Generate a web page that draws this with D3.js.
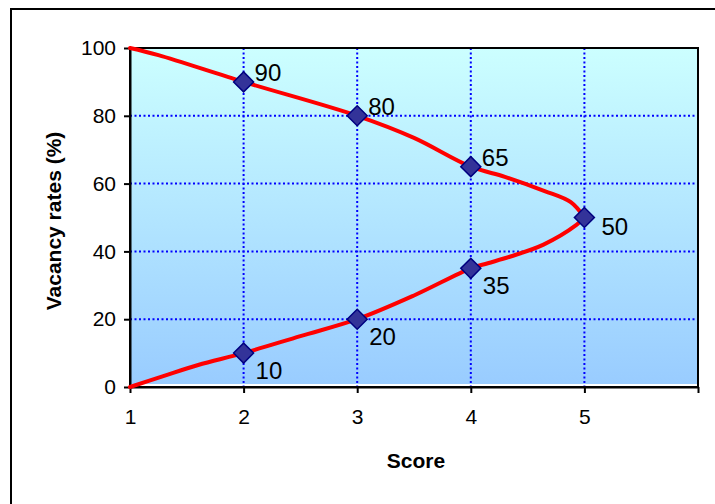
<!DOCTYPE html>
<html>
<head>
<meta charset="utf-8">
<script src="https://cdn.jsdelivr.net/npm/d3@7"></script>
<style>
  html, body { margin: 0; padding: 0; background: #fff; }
  svg { display: block; font-family: Arial, "Liberation Sans", sans-serif; }
</style>
</head>
<body>
<svg id="chart" width="715" height="504"></svg>
<script>
// Scores and vacancy rates for the two branches of the curve
const scores = [2, 3, 4, 5];
const upperRates = [90, 80, 65, 50];
const lowerRates = [10, 20, 35];
const lowerScores = [2, 3, 4];

// Smoothed red curve: upper branch from (1,100) to (5,50), lower branch back to (1,0)
const upperCurveX = [1, 1.25, 2, 3, 3.5, 4, 4.3, 4.65, 4.88, 5];
const upperCurveY = [100, 97.9, 90, 80, 73.5, 65, 62, 57.8, 54.5, 50];
const lowerCurveX = [5, 4.93, 4.64, 4.35, 4.15, 4, 3.5, 3, 2.5, 2, 1.6, 1.3, 1];
const lowerCurveY = [50, 47.8, 42, 38.5, 36.5, 35, 27, 20, 15, 10, 6.5, 3.3, 0];

const xTicks = [1, 2, 3, 4, 5, 6];
const xTickLabels = ["1", "2", "3", "4", "5", ""];
const yTicks = [0, 20, 40, 60, 80, 100];

const svg = d3.select("#chart");
const plotLeft = 130, plotRight = 698, plotTop = 48, plotBottom = 387;

const x = d3.scaleLinear().domain([1, 6]).range([plotLeft, plotRight]);
const y = d3.scaleLinear().domain([0, 100]).range([plotBottom, plotTop]);

// Outer chart frame
svg.append("rect")
  .attr("x", 11).attr("y", 9)
  .attr("width", 740).attr("height", 540)
  .attr("fill", "#fff").attr("stroke", "#000").attr("stroke-width", 2);

// Plot-area gradient fill
const defs = svg.append("defs");
const grad = defs.append("linearGradient")
  .attr("id", "plotFill").attr("x1", 0).attr("y1", 0).attr("x2", 0).attr("y2", 1);
grad.append("stop").attr("offset", "0%").attr("stop-color", "#ccffff");
grad.append("stop").attr("offset", "100%").attr("stop-color", "#99ccff");

svg.append("rect")
  .attr("x", plotLeft).attr("y", plotTop)
  .attr("width", plotRight - plotLeft - 1).attr("height", plotBottom - plotTop - 3)
  .attr("fill", "url(#plotFill)");

// Dotted gridlines
const grid = svg.append("g")
  .attr("stroke", "#0000ff").attr("stroke-width", 2)
  .attr("stroke-dasharray", "2,2.5");
grid.selectAll("line.h").data(yTicks.filter(d => d > 0 && d < 100)).join("line")
  .attr("class", "h")
  .attr("x1", plotLeft).attr("x2", plotRight)
  .attr("y1", d => y(d)).attr("y2", d => y(d));
grid.selectAll("line.v").data(xTicks.filter(d => d > 1 && d < 6)).join("line")
  .attr("class", "v")
  .attr("x1", d => x(d)).attr("x2", d => x(d))
  .attr("y1", plotTop).attr("y2", plotBottom);

// Plot-area border
svg.append("rect")
  .attr("x", plotLeft).attr("y", plotTop)
  .attr("width", plotRight - plotLeft).attr("height", plotBottom - plotTop)
  .attr("fill", "none").attr("stroke", "#000").attr("stroke-width", 2);

// Axes
const xAxis = d3.axisBottom(x).tickValues(xTicks)
  .tickFormat((d, i) => xTickLabels[i]).tickSize(6).tickSizeOuter(0).tickPadding(16);
const gx = svg.append("g").attr("transform", `translate(0,${plotBottom})`).call(xAxis);
const yAxis = d3.axisLeft(y).tickValues(yTicks).tickSize(6).tickSizeOuter(0).tickPadding(8);
const gy = svg.append("g").attr("transform", `translate(${plotLeft},0)`).call(yAxis);
[gx, gy].forEach(g => {
  g.select(".domain").attr("stroke", "#000").attr("stroke-width", 2);
  g.selectAll(".tick line").attr("stroke", "#000").attr("stroke-width", 2);
  g.selectAll(".tick text").attr("fill", "#000")
    .style("font-size", "21px").style("font-family", "Arial, 'Liberation Sans', sans-serif");
});

// Red smoothed curve
const line = d3.line()
  .x(d => x(d[0])).y(d => y(d[1]))
  .curve(d3.curveCatmullRom.alpha(0.5));
const upperPts = upperCurveX.map((v, i) => [v, upperCurveY[i]]);
const lowerPts = lowerCurveX.map((v, i) => [v, lowerCurveY[i]]);
[upperPts, lowerPts].forEach(pts => {
  svg.append("path").datum(pts)
    .attr("d", line)
    .attr("fill", "none").attr("stroke", "#ff0000")
    .attr("stroke-width", 4).attr("stroke-linejoin", "round").attr("stroke-linecap", "round");
});

// Diamond markers with value labels
const upperPoints = scores.map((s, i) => ({ s, v: upperRates[i], pos: s === 5 ? "belowRight" : "right" }));
const lowerPoints = lowerScores.map((s, i) => ({ s, v: lowerRates[i], pos: "below" }));
const allPoints = upperPoints.concat(lowerPoints);

const diamond = d3.symbol().type(d3.symbolSquare).size(200);
svg.append("g").selectAll("path").data(allPoints).join("path")
  .attr("d", diamond)
  .attr("transform", d => `translate(${x(d.s)},${y(d.v)}) rotate(45)`)
  .attr("fill", "#333399").attr("stroke", "#000080").attr("stroke-width", 1.5);

const labelOffset = {
  right: [11, -1],
  belowRight: [17, 17],
  below: [12, 26]
};
svg.append("g").selectAll("text").data(allPoints).join("text")
  .attr("x", d => x(d.s) + labelOffset[d.pos][0])
  .attr("y", d => y(d.v) + labelOffset[d.pos][1])
  .attr("fill", "#000")
  .style("font-size", "24px")
  .text(d => d.v);

// Axis titles
svg.append("text")
  .attr("x", 416).attr("y", 468)
  .attr("text-anchor", "middle")
  .style("font-size", "21px").style("font-weight", "bold")
  .text("Score");

svg.append("text")
  .attr("transform", "translate(61,221) rotate(-90)")
  .attr("text-anchor", "middle")
  .style("font-size", "21px").style("font-weight", "bold")
  .text("Vacancy rates (%)");
</script>
</body>
</html>
